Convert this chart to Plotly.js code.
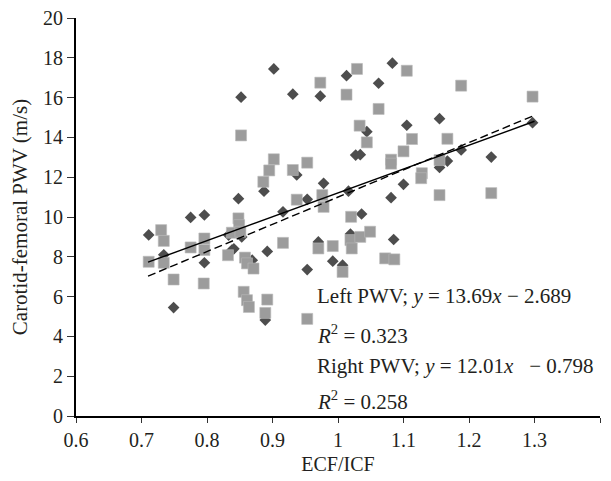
<!DOCTYPE html>
<html>
<head>
<meta charset="utf-8">
<script src="https://cdn.plot.ly/plotly-3.0.1.min.js"></script>
<style>html,body{margin:0;padding:0;background:#fff;}#chart{width:611px;height:481px;}</style>
</head>
<body>
<div id="chart"></div>
<script>
// Left PWV (diamonds)
const leftX = [0.852,0.902,0.931,0.973,0.887,0.937,0.978,0.848,0.953,1.013,1.062,1.083,1.297,1.155,1.105,1.044,1.188,1.027,1.034,1.234,1.167,1.155,1.100,1.016,1.081,1.036,1.019,1.085,0.970,0.992,0.953,1.007,0.916,0.775,0.796,0.711,0.833,0.853,0.734,0.796,0.841,0.892,0.869,0.838,0.749,0.889];
const leftY = [16.02,17.44,16.17,16.07,11.30,12.11,11.69,10.92,10.89,17.10,16.72,17.73,14.74,14.94,14.61,14.29,13.37,13.11,13.13,13.01,12.81,12.49,11.64,11.30,10.97,10.15,9.14,8.87,8.75,7.78,7.36,7.58,10.26,9.98,10.10,9.10,9.09,9.00,8.10,7.70,8.40,8.27,7.83,8.34,5.45,4.82];
// Right PWV (squares)
const rightX = [0.973,0.852,0.902,0.895,0.886,0.931,0.953,0.937,0.976,1.029,1.013,1.105,1.062,1.188,1.297,1.033,1.044,1.113,1.167,1.100,1.081,1.081,1.155,1.128,1.127,1.155,1.234,0.978,1.020,1.019,1.021,1.034,1.049,0.992,0.970,1.072,1.086,1.007,0.953,0.730,0.734,0.848,0.849,0.838,0.851,0.796,0.796,0.775,0.711,0.734,0.832,0.916,0.858,0.861,0.871,0.749,0.795,0.856,0.861,0.864,0.892,0.889];
const rightY = [16.75,14.10,12.90,12.34,11.77,12.36,12.73,10.87,11.10,17.44,16.15,17.35,15.43,16.60,16.05,14.59,13.75,13.92,13.93,13.30,12.88,12.68,12.86,12.20,11.95,11.10,11.20,10.51,10.01,8.84,8.42,9.00,9.26,8.54,8.42,7.92,7.87,7.24,4.88,9.34,8.80,9.93,9.59,9.21,9.26,8.92,8.34,8.47,7.75,7.70,8.08,8.70,7.96,7.67,7.41,6.86,6.66,6.24,5.82,5.48,5.85,5.18];
// Trend line end points
const trendX = [0.71, 1.30];
const leftTrendY = [7.03, 15.11];
const rightTrendY = [7.73, 14.81];

const serif = "Liberation Serif, Times New Roman, serif";
const ink = '#231f20';

const traces = [
  {x: leftX, y: leftY, type: 'scatter', mode: 'markers', name: 'Left PWV',
   marker: {symbol: 'diamond', size: 9, color: '#4d4d4d', line: {width: 0}}},
  {x: rightX, y: rightY, type: 'scatter', mode: 'markers', name: 'Right PWV',
   marker: {symbol: 'square', size: 11, color: '#9c9c9c', line: {width: 0.6, color: '#b8b8b8'}}},
  {x: trendX, y: leftTrendY, type: 'scatter', mode: 'lines', name: 'Left trend',
   line: {color: '#000', width: 1.4, dash: '8px,4px'}},
  {x: trendX, y: rightTrendY, type: 'scatter', mode: 'lines', name: 'Right trend',
   line: {color: '#000', width: 1.4}}
];

const annFont = {family: serif, size: 21, color: ink};
const tickFont = {family: serif, size: 20, color: ink};
const layout = {
  width: 611, height: 481,
  margin: {l: 76, r: 11, t: 18, b: 65, pad: 0},
  paper_bgcolor: '#fff', plot_bgcolor: '#fff',
  showlegend: false,
  font: {family: serif, size: 20, color: ink},
  xaxis: {
    range: [0.6, 1.4], dtick: 0.1, tick0: 0.6, showgrid: false, zeroline: false,
    showline: true, linecolor: '#000', linewidth: 2,
    ticks: 'outside', ticklen: 5, tickwidth: 1, tickcolor: '#333',
    tickfont: tickFont,
    title: {text: 'ECF/ICF', font: {family: serif, size: 20, color: ink}, standoff: 7}
  },
  yaxis: {
    range: [0, 20], dtick: 2, showgrid: false, zeroline: false,
    showline: true, linecolor: '#000', linewidth: 2,
    ticks: 'outside', ticklen: 7, tickwidth: 1, tickcolor: '#333',
    tickfont: tickFont,
    title: {text: 'Carotid-femoral PWV (m/s)', font: {family: serif, size: 21, color: ink}, standoff: 10}
  },
  annotations: [
    {xref: 'x', yref: 'y', x: 0.965, y: 6.05, xanchor: 'left', yanchor: 'middle', showarrow: false,
     text: 'Left PWV; <i>y</i> = 13.69<i>x</i> − 2.689', font: annFont},
    {xref: 'x', yref: 'y', x: 0.965, y: 4.1, xanchor: 'left', yanchor: 'middle', showarrow: false,
     text: '<i>R</i><sup>2</sup> = 0.323', font: annFont},
    {xref: 'x', yref: 'y', x: 0.965, y: 2.5, xanchor: 'left', yanchor: 'middle', showarrow: false,
     text: 'Right PWV; <i>y</i> = 12.01<i>x</i> \u00a0\u00a0− 0.798', font: annFont},
    {xref: 'x', yref: 'y', x: 0.965, y: 0.8, xanchor: 'left', yanchor: 'middle', showarrow: false,
     text: '<i>R</i><sup>2</sup> = 0.258', font: annFont}
  ]
};

Plotly.newPlot('chart', traces, layout, {staticPlot: true, displayModeBar: false});
</script>
</body>
</html>
